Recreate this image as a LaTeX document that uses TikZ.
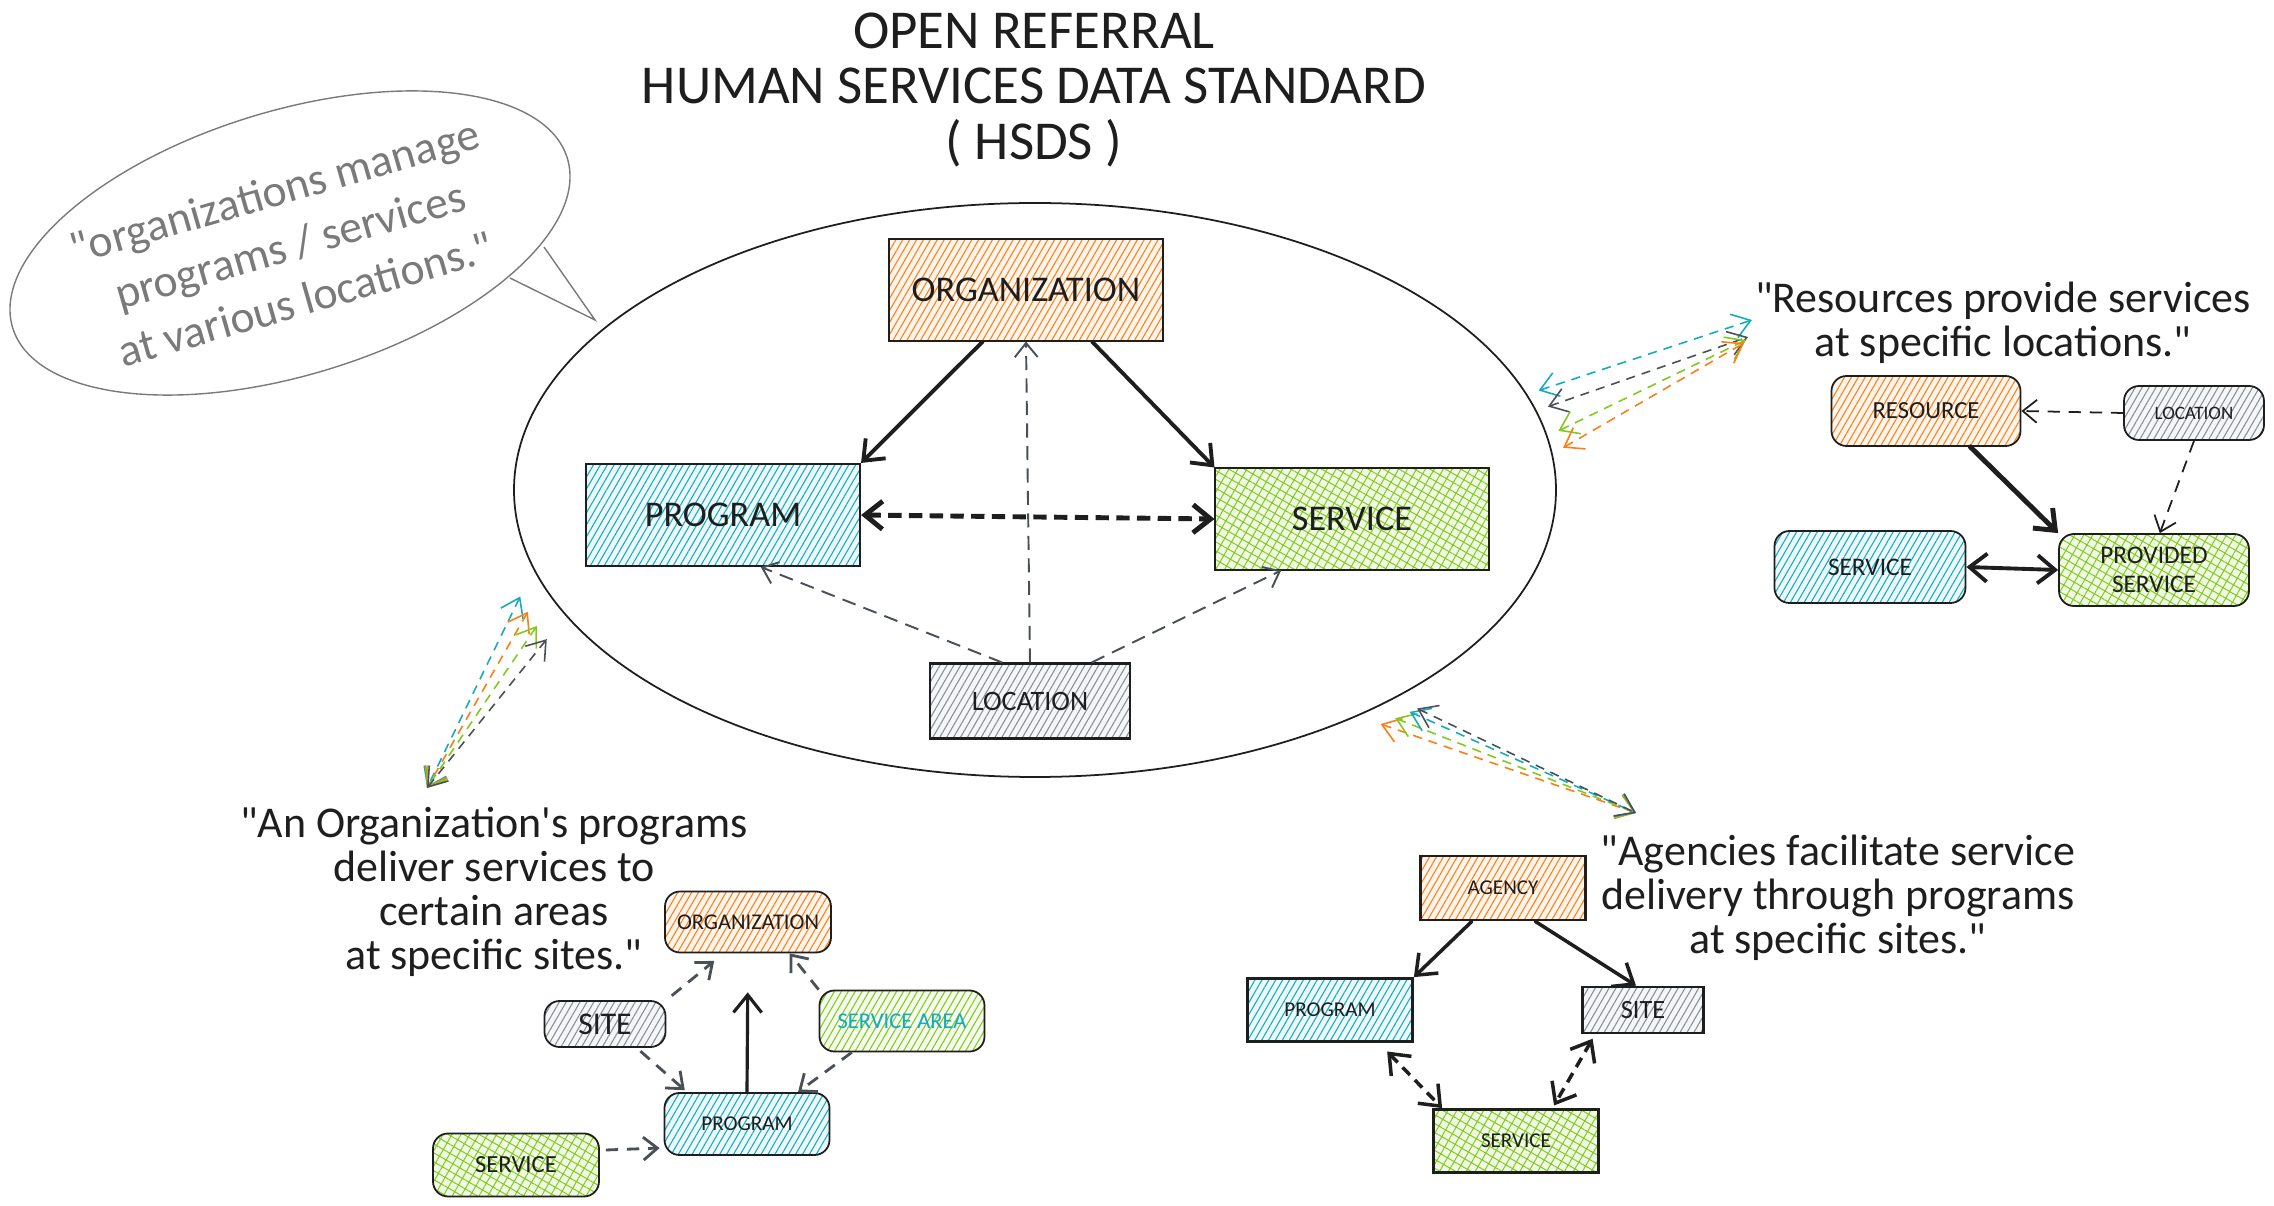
\documentclass[tikz,border=0pt]{standalone}
\usepackage{fontspec}
\setmainfont{Carlito}[Ligatures=TeXOff]
\definecolor{ink}{HTML}{1E1E1E}
\definecolor{hatchorange}{HTML}{FD7E14}
\definecolor{hatchcyan}{HTML}{15AABF}
\definecolor{hatchgreen}{HTML}{82C91E}
\definecolor{hatchgray}{HTML}{868E96}
\definecolor{dashgray}{HTML}{495057}
\definecolor{bubblegray}{HTML}{7A7A7A}
\usepackage{tikz}
\usetikzlibrary{positioning}
\usetikzlibrary{arrows.meta, patterns.meta, shapes.geometric}

\tikzset{
  >={Straight Barb[length=5pt,width=8pt]},
  entity/.style={draw=ink, line width=0.6pt, inner sep=0pt, align=center, text=ink},
  roundentity/.style={entity, line width=0.5pt, rounded corners=1.5mm},
  hatch/.style={preaction={fill=#1!8}, pattern={Lines[angle=60,distance=1.7pt,line width=0.3pt]}, pattern color=#1},
  crosshatch/.style={preaction={fill=#1!12}, pattern={Hatch[angle=60,distance=2.2pt,line width=0.28pt]}, pattern color=#1},
  solidarrow/.style={->, draw=ink, line width=1.1pt, line cap=round},
  graylink/.style={->, draw=dashgray, line width=0.55pt, dash pattern=on 4pt off 2.4pt,
    >={Straight Barb[length=4pt,width=6.5pt]}},
  boldlink/.style={<->, draw=ink, line width=1.4pt, dash pattern=on 3.8pt off 2.1pt},
  blacklink/.style={->, draw=ink, line width=0.5pt, dash pattern=on 3.5pt off 2.5pt,
    >={Straight Barb[length=4pt,width=6.5pt]}},
  grayfat/.style={->, draw=dashgray, line width=0.8pt, dash pattern=on 3.5pt off 2.5pt,
    >={Straight Barb[length=4pt,width=6.5pt]}},
  boldshort/.style={<->, draw=ink, line width=1pt, dash pattern=on 3pt off 2pt},
  bundle/.style={<->, line width=0.45pt, dash pattern=on 2.6pt off 2pt,
    >={Straight Barb[length=5pt,width=7pt]}},
  quote/.style={align=center, inner sep=0pt, text=ink, font=\fontsize{12.5}{12.5}\selectfont},
}

\begin{document}
\begin{tikzpicture}[x=0.1mm, y=-0.1mm]
\fill[white] (0,0) rectangle (2274,1206);
\useasboundingbox (0,0) rectangle (2274,1206);

% title
\node[align=center, text=ink, font=\fontsize{15.6}{15.8}\selectfont] (title) at (1034,90)
  {OPEN REFERRAL\\HUMAN SERVICES DATA STANDARD\\( HSDS )};

% speech bubble
\draw[bubblegray, line width=0.4pt, rotate around={17:(290,243)}] (290,243) ellipse [x radius=290, y radius=132];
\draw[bubblegray, line width=0.4pt] (544,247) -- (595,320) -- (510,278);
\node[align=center, text=bubblegray, rotate=16, font=\fontsize{13}{16}\selectfont] (bubble) at (290,245)
  {"organizations manage\\programs / services\\at various locations."};

% core model
\node[draw=ink, ellipse, line width=0.5pt, minimum width=104.2mm, minimum height=57.4mm, inner sep=0pt] (hsds) at (1035,490) {};
\node[entity, hatch=hatchorange, minimum width=27.4mm, minimum height=10.2mm, font=\fontsize{10.3}{12}\selectfont] (org) at (1026,290) {ORGANIZATION};
\node[entity, hatch=hatchcyan, minimum width=27.4mm, minimum height=10.2mm, font=\fontsize{10.3}{12}\selectfont] (prog) at (723,515) {PROGRAM};
\node[entity, crosshatch=hatchgreen, minimum width=27.4mm, minimum height=10.2mm, font=\fontsize{10.3}{12}\selectfont] (serv) at (1352,519) {SERVICE};
\node[entity, hatch=hatchgray, minimum width=20mm, minimum height=7.5mm, font=\fontsize{8}{10}\selectfont] (loc) at (1030,701) {LOCATION};

\draw[solidarrow] (org.-130) -- (prog.north east);
\draw[solidarrow] (org.-38) -- (serv.north west);
\draw[boldlink] (prog.east) -- (serv.west);
\draw[graylink] (loc.north) -- (org.south);
\draw[graylink] (loc.126) -- (prog.-54);
\draw[graylink] (loc.32) -- (serv.-144);

% resources
\node[quote] (resq) at (2003,323) {"Resources provide services\\at specific locations."};
\node[roundentity, hatch=hatchorange, minimum width=18.9mm, minimum height=7mm, font=\fontsize{7}{8}\selectfont] (res) at (1926,411) {RESOURCE};
\node[roundentity, hatch=hatchgray, minimum width=14mm, minimum height=5.4mm, font=\fontsize{5.4}{6}\selectfont] (rloc) at (2194,413) {LOCATION};
\node[roundentity, hatch=hatchcyan, minimum width=19.1mm, minimum height=7.2mm, font=\fontsize{7.2}{8}\selectfont] (rserv) at (1870,567) {SERVICE};
\node[roundentity, crosshatch=hatchgreen, minimum width=19mm, minimum height=7.2mm, font=\fontsize{7.2}{8.4}\selectfont] (prov) at (2154,570) {PROVIDED\\SERVICE};

\draw[solidarrow, line width=1.4pt] (res.-39) -- (prov.north west);
\draw[blacklink] (rloc.west) -- (res.east);
\draw[blacklink] (rloc.south) -- (prov.81);
\draw[solidarrow, <->] (rserv.east) -- (prov.west);

% organization's programs
\node[quote] (orgq) at (494,892) {"An Organization's programs\\deliver services to\\certain areas\\at specific sites."};
\node[roundentity, hatch=hatchorange, minimum width=16.6mm, minimum height=6.1mm, font=\fontsize{6.4}{7}\selectfont] (lorg) at (748,922) {ORGANIZATION};
\node[roundentity, hatch=hatchgray, minimum width=12.1mm, minimum height=4.6mm, font=\fontsize{9}{10}\selectfont] (lsite) at (605,1024) {SITE};
\node[roundentity, hatch=hatchgreen, minimum width=16.5mm, minimum height=6.1mm, text=hatchcyan, font=\fontsize{6.4}{7}\selectfont] (larea) at (902,1021) {SERVICE AREA};
\node[roundentity, hatch=hatchcyan, minimum width=16.5mm, minimum height=6.2mm, font=\fontsize{6}{7}\selectfont] (lprog) at (747,1124) {PROGRAM};
\node[roundentity, crosshatch=hatchgreen, minimum width=16.6mm, minimum height=6.3mm, font=\fontsize{7}{8}\selectfont] (lserv) at (516,1165) {SERVICE};

\draw[solidarrow, line width=0.9pt, shorten >=3.9mm] (lprog.north) -- (lorg.south);
\draw[grayfat, shorten <=0.7mm, shorten >=1.2mm] (lsite.north east) -- (lorg.-128);
\draw[grayfat, shorten <=0.5mm, shorten >=0.3mm] (lsite.-37) -- (lprog.152);
\draw[grayfat] (larea.north west) -- (lorg.-37);
\draw[grayfat] (larea.-148) -- (lprog.32);
\draw[grayfat, shorten <=0.6mm, shorten >=0.4mm] (lserv.10) -- (lprog.196);

% agencies
\node[quote] (agq) at (1838,898) {"Agencies facilitate service\\delivery through programs\\at specific sites."};
\node[entity, line width=0.8pt, hatch=hatchorange, minimum width=16.5mm, minimum height=6.4mm, font=\fontsize{6}{7}\selectfont] (agency) at (1503,888) {AGENCY};
\node[entity, line width=0.8pt, hatch=hatchcyan, minimum width=16.5mm, minimum height=6.3mm, font=\fontsize{6}{7}\selectfont] (rprog) at (1330,1010) {PROGRAM};
\node[entity, line width=0.8pt, hatch=hatchgray, minimum width=12.1mm, minimum height=4.6mm, font=\fontsize{7.5}{8}\selectfont] (rsite) at (1643,1010) {SITE};
\node[entity, line width=0.8pt, crosshatch=hatchgreen, minimum width=16.5mm, minimum height=6.3mm, font=\fontsize{6}{7}\selectfont] (rsrv) at (1516,1141) {SERVICE};

\draw[solidarrow, line width=1pt] (agency.-133) -- (rprog.north east);
\draw[solidarrow, line width=1pt] (agency.-46) -- (rsite.106);
\draw[boldshort, shorten <=1.2mm] (rprog.-34) -- (rsrv.156);
\draw[boldshort, shorten <=0.5mm, shorten >=0.3mm] (rsite.-153) -- (rsrv.42);

% links between the model and the examples
\coordinate (resend) at (1761,323);
\coordinate (agend) at (1636,813);
\coordinate (orgend) at (427,788);
\foreach \col/\ang/\dx/\dy in {hatchcyan/11/-0.9/0.3, dashgray/9/-1.3/-1.4, hatchgreen/6/-1.5/-1.7, hatchorange/4/-1.7/-2.0}
  \draw[bundle, draw=\col, shorten <=1.2mm] (hsds.\ang) -- ([xshift=\dx mm, yshift=\dy mm]resend);
\foreach \col/\ang in {hatchorange/-35.4, hatchgreen/-33, hatchcyan/-31.3, dashgray/-30}
  \draw[bundle, draw=\col, shorten <=2.4mm] (hsds.\ang) -- (agend);
\foreach \col/\ang in {hatchcyan/189, hatchorange/191.5, hatchgreen/193.2, dashgray/195.5}
  \draw[bundle, draw=\col, shorten <=3mm] (hsds.\ang) -- (orgend);
\end{tikzpicture}
\end{document}
